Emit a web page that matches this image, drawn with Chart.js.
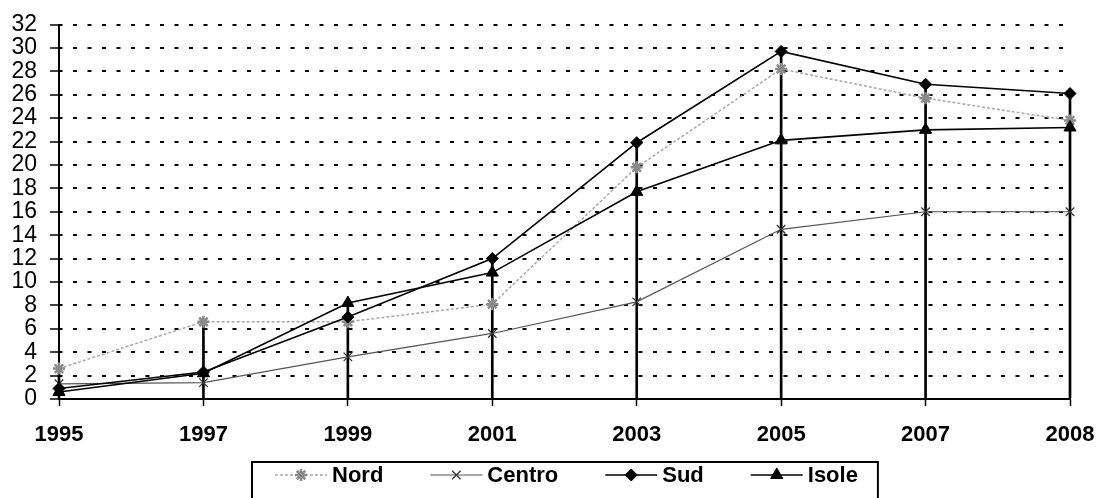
<!DOCTYPE html>
<html>
<head>
<meta charset="utf-8">
<script src="https://cdn.jsdelivr.net/npm/chart.js@4.4.1/dist/chart.umd.min.js"></script>
<style>
  html, body { margin: 0; padding: 0; background: #fff; }
</style>
</head>
<body>
<canvas id="chart" width="1100" height="498"></canvas>
<script>
const years = ["1995", "1997", "1999", "2001", "2003", "2005", "2007", "2008"];
const nord = [2.6, 6.6, 6.6, 8.1, 19.8, 28.2, 25.7, 23.8];
const centro = [1.3, 1.4, 3.6, 5.6, 8.3, 14.5, 16.0, 16.0];
const sud = [0.9, 2.3, 7.0, 12.0, 21.9, 29.7, 26.9, 26.1];
const isole = [0.6, 2.2, 8.2, 10.8, 17.7, 22.1, 23.0, 23.2];
const yMin = 0;
const yMax = 32;
const yStep = 2;

// drop lines go from the axis up to the highest series at each year
const dropTop = years.map((_, i) => Math.max(nord[i], centro[i], sud[i], isole[i]));

const FONT = "Arial, 'Liberation Sans', sans-serif";
Chart.defaults.font.family = FONT;
Chart.defaults.color = "#000";

// legend in a box under the axis, line sample + marker + bold label
const legendBox = {
  id: "legendBox",
  afterDraw(chart) {
    const ctx = chart.ctx;
    const items = chart.data.datasets.filter(d => d.type !== "bar");
    const sample = 52, gapText = 5, gapItem = 47, padL = 23, padR = 20;
    ctx.save();
    ctx.font = "bold 22px " + FONT;
    const widths = items.map(d => sample + gapText + ctx.measureText(d.label).width);
    const total = widths.reduce((a, b) => a + b, 0) + gapItem * (items.length - 1);
    const boxW = total + padL + padR;
    const area = chart.chartArea;
    const boxLeft = Math.round((area.left + area.right) / 2 - boxW / 2);
    const boxTop = 462;
    const cy = 475;

    ctx.strokeStyle = "#000";
    ctx.lineWidth = 2;
    ctx.strokeRect(boxLeft, boxTop, boxW, 60);

    let x = boxLeft + padL;
    items.forEach((d, i) => {
      ctx.save();
      ctx.strokeStyle = d.borderColor;
      ctx.lineWidth = d.borderWidth;
      ctx.setLineDash(d.borderDash || []);
      ctx.beginPath();
      ctx.moveTo(x, cy);
      ctx.lineTo(x + sample, cy);
      ctx.stroke();
      ctx.restore();

      ctx.save();
      ctx.setLineDash([]);
      ctx.fillStyle = d.pointBackgroundColor;
      ctx.strokeStyle = d.pointBorderColor;
      ctx.lineWidth = d.pointBorderWidth;
      Chart.helpers.drawPoint(ctx, {
        pointStyle: d.pointStyle,
        radius: d.pointRadius,
        borderWidth: d.pointBorderWidth,
        rotation: 0
      }, x + sample / 2, cy);
      ctx.restore();

      ctx.fillStyle = "#000";
      ctx.textBaseline = "middle";
      ctx.textAlign = "left";
      ctx.fillText(d.label, x + sample + gapText, cy + 1);
      x += widths[i] + gapItem;
    });
    ctx.restore();
  }
};

new Chart(document.getElementById("chart"), {
  data: {
    labels: years,
    datasets: [
      {
        type: "bar",
        label: "drop",
        data: dropTop.map(v => [0, v]),
        backgroundColor: "#000",
        barThickness: 2,
        clip: false,
        order: 10
      },
      {
        type: "line",
        label: "Nord",
        data: nord,
        borderColor: "#a8a8a8",
        borderWidth: 1.5,
        borderDash: [3, 2],
        pointStyle: "star",
        pointRadius: 6,
        pointBorderWidth: 2.5,
        pointBorderColor: "#8a8a8a",
        pointBackgroundColor: "#8a8a8a",
        tension: 0,
        order: 4
      },
      {
        type: "line",
        label: "Centro",
        data: centro,
        borderColor: "#555",
        borderWidth: 1.2,
        pointStyle: "crossRot",
        pointRadius: 6,
        pointBorderWidth: 1.3,
        pointBorderColor: "#333",
        pointBackgroundColor: "#333",
        tension: 0,
        order: 3
      },
      {
        type: "line",
        label: "Sud",
        data: sud,
        borderColor: "#000",
        borderWidth: 1.6,
        pointStyle: "rectRot",
        pointRadius: 6,
        pointBorderWidth: 1,
        pointBorderColor: "#000",
        pointBackgroundColor: "#000",
        tension: 0,
        order: 2
      },
      {
        type: "line",
        label: "Isole",
        data: isole,
        borderColor: "#000",
        borderWidth: 1.6,
        pointStyle: "triangle",
        pointRadius: 7,
        pointBorderWidth: 1,
        pointBorderColor: "#000",
        pointBackgroundColor: "#000",
        tension: 0,
        order: 1
      }
    ]
  },
  options: {
    responsive: false,
    animation: false,
    layout: { padding: { left: 0, right: 30, top: 24, bottom: 0 } },
    plugins: {
      legend: { display: false },
      tooltip: { enabled: false }
    },
    scales: {
      x: {
        type: "category",
        offset: false,
        grid: {
          offset: false,
          drawOnChartArea: false,
          drawTicks: true,
          tickLength: 7,
          tickColor: "#000",
          tickWidth: 1.5
        },
        border: { color: "#000", width: 2 },
        ticks: {
          font: { size: 22, weight: "bold" },
          color: "#000",
          padding: 16,
          maxRotation: 0,
          autoSkip: false
        },
        afterFit(scale) {
          scale.height = 99;
          scale.paddingLeft = 0;
          scale.paddingRight = 0;
        }
      },
      y: {
        min: yMin,
        max: yMax,
        ticks: {
          stepSize: yStep,
          autoSkip: false,
          font: { size: 23, lineHeight: 1 },
          color: "#000",
          padding: 13
        },
        grid: {
          color: "#000",
          lineWidth: 2,
          tickLength: 9,
          tickColor: "#000",
          tickWidth: 1.5,
          tickBorderDash: []
        },
        border: { color: "#000", width: 2, dash: [4, 10.5], dashOffset: 1.5 },
        afterFit(scale) { scale.width = 59; }
      }
    }
  },
  plugins: [legendBox]
});
</script>
</body>
</html>
